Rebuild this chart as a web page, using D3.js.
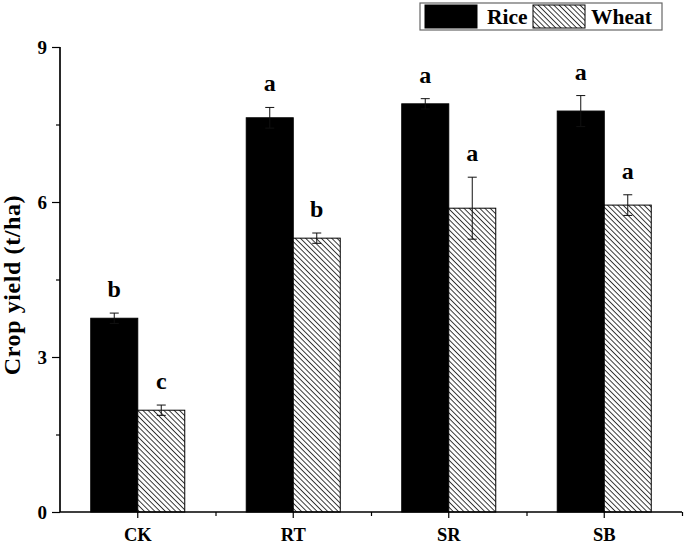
<!DOCTYPE html>
<html><head><meta charset="utf-8">
<script src="https://cdn.jsdelivr.net/npm/d3@7"></script>
<style>body{margin:0;background:#fff}svg{display:block}text{font-family:"Liberation Serif","Times New Roman",serif;font-weight:bold}</style>
</head><body><svg id="c" width="685" height="544"></svg>
<script>
const categories = ["CK","RT","SR","SB"];
const seriesNames = ["Rice","Wheat"];
const riceValues = [3.75, 7.63, 7.90, 7.76];
const riceErrors = [0.10, 0.20, 0.10, 0.30];
const riceLetters = ["b","a","a","a"];
const wheatValues = [1.97, 5.30, 5.88, 5.94];
const wheatErrors = [0.10, 0.10, 0.60, 0.20];
const wheatLetters = ["c","b","a","a"];
const yTicks = [0,3,6,9];
const yMinorTicks = [1.5,4.5,7.5];
const yTitle = "Crop yield (t/ha)";

(function(){
const svg = d3.select("#c");
const defs = svg.append("defs");
const pat = defs.append("pattern").attr("id","hatch").attr("patternUnits","userSpaceOnUse")
  .attr("width",3.7).attr("height",3.7).attr("patternTransform","rotate(45)");
pat.append("rect").attr("width",3.7).attr("height",3.7).attr("fill","#fff");
pat.append("line").attr("x1",0).attr("y1",0.5).attr("x2",3.7).attr("y2",0.5).attr("stroke","#222").attr("stroke-width",0.9);

const mL = 60, mR = 682, mT = 47, mB = 512;
const x = d3.scaleBand().domain(categories).range([mL,mR]).paddingInner(0).paddingOuter(0);
const bw = 47;
const y = d3.scaleLinear().domain([0,9]).range([mB,mT]);

const series = [
  {name:"Rice", values:riceValues, errors:riceErrors, letters:riceLetters, fill:"#000", off:-bw},
  {name:"Wheat", values:wheatValues, errors:wheatErrors, letters:wheatLetters, fill:"url(#hatch)", off:0}
];

series.forEach(s=>{
  const g = svg.append("g");
  categories.forEach((c,i)=>{
    const cx = x(c)+x.bandwidth()/2 + s.off;
    const v = s.values[i], e = s.errors[i];
    g.append("rect").attr("x",cx).attr("y",y(v)).attr("width",bw).attr("height",y(0)-y(v))
      .attr("fill",s.fill).attr("stroke","#000").attr("stroke-width",1);
    const mx = cx + bw/2;
    const eg = g.append("g").attr("stroke", "#111").attr("stroke-width",1);
    eg.append("line").attr("x1",mx).attr("x2",mx).attr("y1",y(v+e)).attr("y2",y(v-e));
    eg.append("line").attr("x1",mx-4.5).attr("x2",mx+4.5).attr("y1",y(v+e)).attr("y2",y(v+e));
    eg.append("line").attr("x1",mx-4.5).attr("x2",mx+4.5).attr("y1",y(v-e)).attr("y2",y(v-e));
    g.append("text").attr("x",mx).attr("y",y(v+e)-16).attr("text-anchor","middle")
      .attr("font-size",24).text(s.letters[i]);
  });
});

// Y axis
const ya = svg.append("g").attr("transform",`translate(${mL},0)`)
  .call(d3.axisLeft(y).tickValues(yTicks).tickSize(8).tickPadding(5).tickFormat(d3.format("d")));
ya.append("g").call(d3.axisLeft(y).tickValues(yMinorTicks).tickSize(4).tickFormat(""));
ya.selectAll("text").attr("font-size",19).attr("fill","#000");
ya.selectAll("path,line").attr("stroke","#000").attr("stroke-width",1.2);
ya.selectAll(".domain").attr("d",`M0,${mT}V${mB}`);

// X axis
const xa = svg.append("g").attr("transform",`translate(0,${mB})`)
  .call(d3.axisBottom(x).tickSize(6).tickPadding(10));
xa.append("g").call(d3.axisBottom(d3.scaleLinear().domain([0,4]).range([mL,mR])).tickValues([1,2,3,4]).tickSize(4).tickFormat(""));
xa.selectAll("text").attr("font-size",18.5).attr("fill","#000");
xa.selectAll("path,line").attr("stroke","#000").attr("stroke-width",1.2);
xa.selectAll(".domain").attr("d",`M${mL},0H${mR}`);

svg.append("text").attr("transform",`translate(20,285) rotate(-90)`)
  .attr("text-anchor","middle").attr("font-size",24).attr("letter-spacing",0.6).text(yTitle);

// Legend
const lg = svg.append("g");
lg.append("rect").attr("x",420).attr("y",3).attr("width",242).attr("height",27).attr("fill","#fff").attr("stroke","#666").attr("stroke-width",1.2);
const legItems = [
  {name:seriesNames[0], fill:"#000", sx:425, tx:487},
  {name:seriesNames[1], fill:"url(#hatch)", sx:533, tx:591}
];
legItems.forEach(it=>{
  lg.append("rect").attr("x",it.sx).attr("y",5).attr("width",52).attr("height",23).attr("fill",it.fill).attr("stroke","#000");
  lg.append("text").attr("x",it.tx).attr("y",24).attr("font-size",21.5).text(it.name);
});
})();
</script></body></html>
